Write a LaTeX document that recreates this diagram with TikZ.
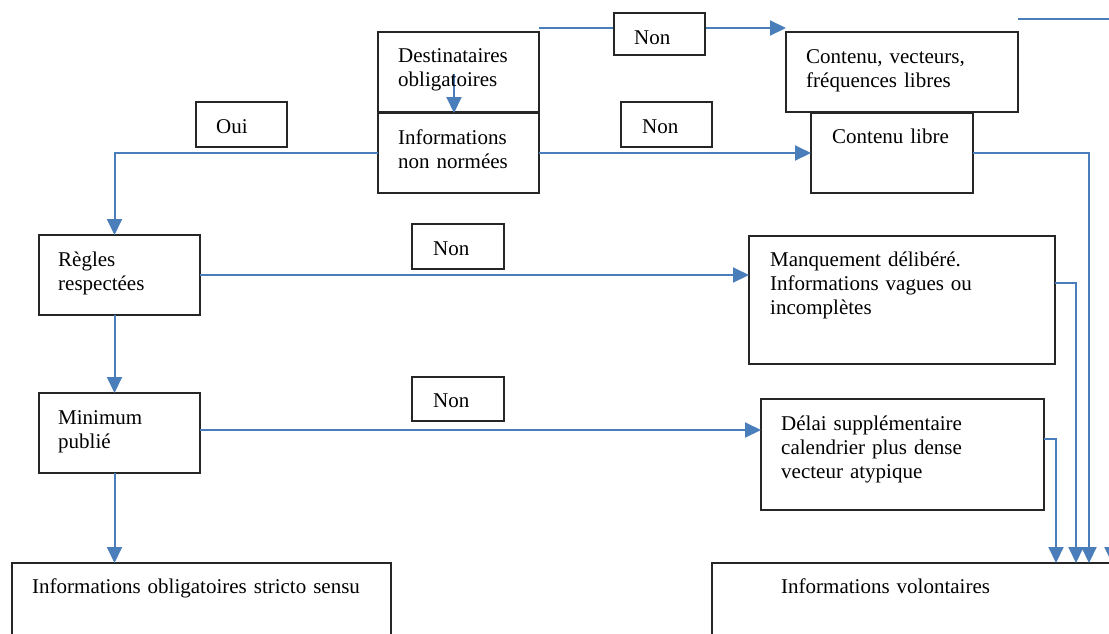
\documentclass[tikz,border=0pt]{standalone}
\usepackage{fontspec}
\setmainfont{Liberation Serif}
\usetikzlibrary{arrows.meta}
\definecolor{conncol}{HTML}{4A7EBB}
\begin{document}
\begin{tikzpicture}[x=1pt,y=-1pt,
  box/.style={draw=black!85, line width=1.1pt, anchor=north west, inner sep=0pt, outer sep=0pt, fill=white},
  txt/.style={anchor=base west, inner sep=0pt, text width=#1, align=left, font=\fontsize{21}{24}\selectfont},
  txt/.default=320pt,
  conn/.style={draw=conncol, line width=2pt},
  arr/.style={conn, -{Triangle[width=15pt,length=16pt]}}]
\useasboundingbox (0,0) rectangle (1109,633);
\clip (0,0) rectangle (1109,633);
% main boxes
\node[box, minimum width=161pt, minimum height=80pt] (dest) at (378,32) {};
\node[box, minimum width=161pt, minimum height=80pt] (info) at (378,113) {};
\node[box, minimum width=232pt, minimum height=80pt] (contvec) at (786,32) {};
\node[box, minimum width=162pt, minimum height=80pt] (contlib) at (811,113) {};
\node[box, minimum width=161pt, minimum height=80pt] (regles) at (39,235) {};
\node[box, minimum width=161pt, minimum height=80pt] (minimum) at (39,393) {};
\node[box, minimum width=306pt, minimum height=128pt] (manq) at (749,236) {};
\node[box, minimum width=283pt, minimum height=111pt] (delai) at (761,399) {};
\node[box, minimum width=379pt, minimum height=100pt] (oblig) at (12,563) {};
\node[box, minimum width=450pt, minimum height=100pt] (vol) at (712,563) {};
% connectors
\draw[arr] ([xshift=-4.5pt,yshift=-2pt]dest.center) -- ([xshift=-4.5pt]info.north);
\draw[arr] ([yshift=4pt]dest.north east) -- ([yshift=4pt]contvec.north west);
\draw[arr] ([yshift=13pt]contvec.north east) -| ([xshift=400pt]vol.north west);
\draw[arr] (info.east) -- (contlib.west);
\draw[arr] (contlib.east) -| ([xshift=377pt]vol.north west);
\draw[arr] (info.west) -| ([xshift=-5pt]regles.north);
\draw[arr] ([xshift=-5pt]regles.south) -- ([xshift=-5pt]minimum.north);
\draw[arr] ([xshift=-5pt]minimum.south) -- ([xshift=-5pt]minimum.south |- oblig.north);
\draw[arr] (regles.east) -- (regles.east -| manq.west);
\draw[arr] ([yshift=-47pt]manq.north east) -| ([xshift=364pt]vol.north west);
\draw[arr] ([yshift=3pt]minimum.east) -- ([yshift=3pt]minimum.east -| delai.west);
\draw[arr] ([yshift=-40pt]delai.north east) -| ([xshift=344pt]vol.north west);
% label boxes
\node[box, minimum width=91pt, minimum height=42pt] (non1) at (614,13) {};
\node[box, minimum width=91pt, minimum height=45pt] (non2) at (621,102) {};
\node[box, minimum width=91pt, minimum height=45pt] (oui) at (196,102) {};
\node[box, minimum width=92pt, minimum height=45pt] (non3) at (412,224) {};
\node[box, minimum width=92pt, minimum height=44pt] (non4) at (412,377) {};
% texts
\node[txt] (tdest) at (398,62) {Destinataires\\obligatoires};
\node[txt] (tinfo) at (398,144) {Informations\\non normées};
\node[txt] (tcontvec) at (806,63) {Contenu, vecteurs,\\fréquences libres};
\node[txt] (tcontlib) at (832,143) {Contenu libre};
\node[txt] (tregles) at (58,266) {Règles\\respectées};
\node[txt] (tmin) at (58,424) {Minimum\\publié};
\node[txt] (tmanq) at (770,266) {Manquement délibéré.\\Informations vagues ou\\incomplètes};
\node[txt] (tdelai) at (781,430) {Délai supplémentaire\\calendrier plus dense\\vecteur atypique};
\node[txt=400pt] (toblig) at (32,593) {Informations obligatoires stricto sensu};
\node[txt] (tvol) at (781,593) {Informations volontaires};
\node[txt] (tnon1) at (634,44) {Non};
\node[txt] (tnon2) at (642,133) {Non};
\node[txt] (toui) at (216,133) {Oui};
\node[txt] (tnon3) at (433,255) {Non};
\node[txt] (tnon4) at (433,407) {Non};
\end{tikzpicture}
\end{document}
